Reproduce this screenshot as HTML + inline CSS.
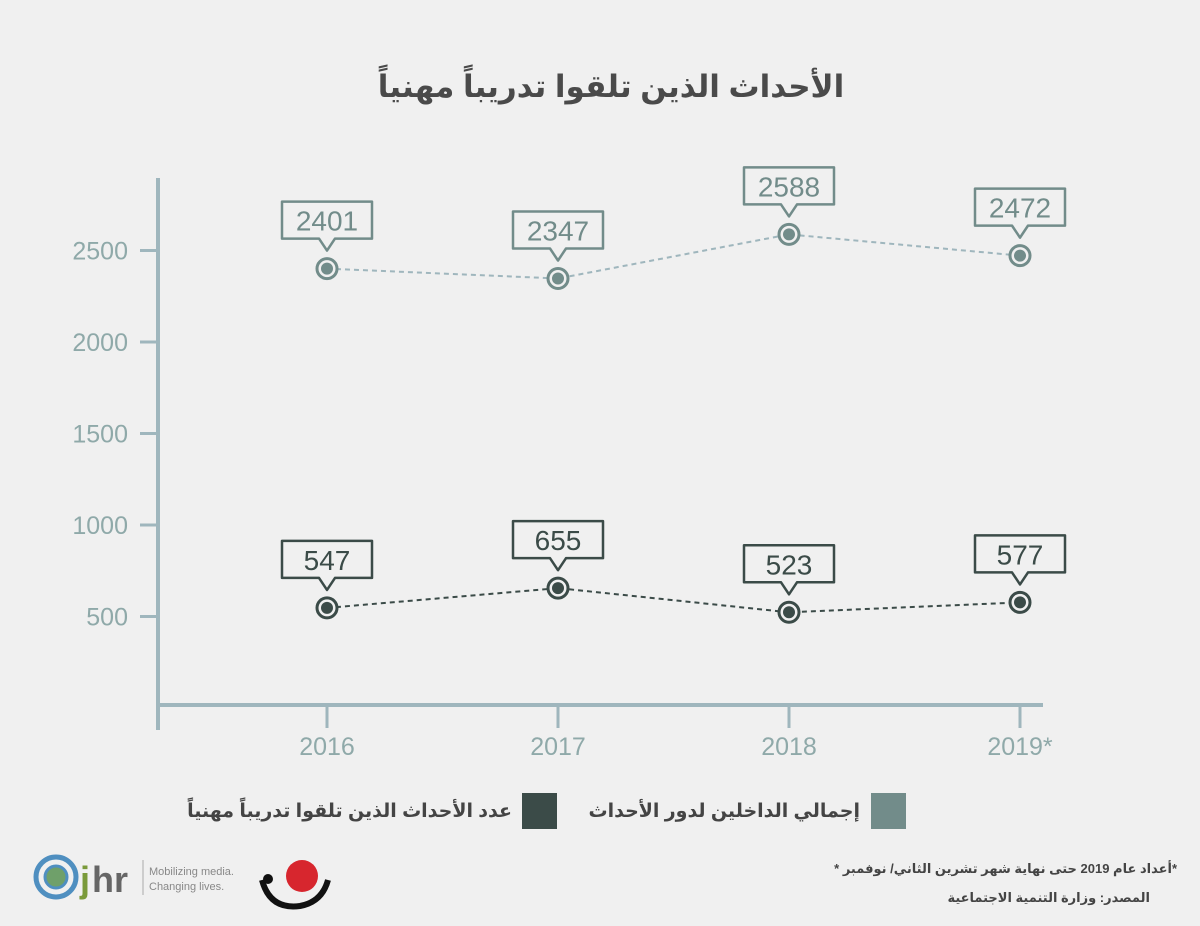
<!DOCTYPE html>
<html><head><meta charset="utf-8"><style>
body{margin:0;background:#f0f0f0;}
svg{display:block;font-family:"Liberation Sans","DejaVu Sans",sans-serif;}
</style></head><body>
<svg id="c" width="1200" height="926" viewBox="0 0 1200 926">
<rect width="1200" height="926" fill="#f0f0f0"/>
<text x="611" y="97" text-anchor="middle" font-size="31" font-weight="bold" fill="#4a4a4a" font-family="'Liberation Sans','Noto Sans CJK SC','DejaVu Sans',sans-serif">الأحداث الذين تلقوا تدريباً مهنياً</text>
<g id="axes"></g><g id="series"></g>
<g>
<rect x="871" y="793" width="35" height="36" fill="#728c8a"/>
<text x="860" y="817" text-anchor="end" font-size="19" font-weight="bold" fill="#444">إجمالي الداخلين لدور الأحداث</text>
<rect x="522" y="793" width="35" height="36" fill="#3b4b48"/>
<text x="512" y="817" text-anchor="end" font-size="19" font-weight="bold" fill="#444">عدد الأحداث الذين تلقوا تدريباً مهنياً</text>
</g>
<text x="1177" y="873" text-anchor="end" font-size="13" font-weight="bold" fill="#444">* أعداد عام 2019 حتى نهاية شهر تشرين الثاني/ نوفمبر*</text>
<text x="1150" y="902" text-anchor="end" font-size="13" font-weight="bold" fill="#444">المصدر: وزارة التنمية الاجتماعية</text>
<g>
<circle cx="56" cy="877" r="20" fill="none" stroke="#4f8fc0" stroke-width="5"/>
<circle cx="56" cy="877" r="11" fill="#6fa06a" stroke="#4f8fc0" stroke-width="3"/>
<text x="80" y="892" font-size="36" font-weight="bold" fill="#7a9a3a">j</text>
<text x="92" y="892" font-size="36" font-weight="bold" fill="#666">hr</text>
<line x1="143" y1="860" x2="143" y2="895" stroke="#aaa"/>
<text x="149" y="875" font-size="11" fill="#888">Mobilizing media.</text>
<text x="149" y="890" font-size="11" fill="#888">Changing lives.</text>
</g>
<g>
<circle cx="302" cy="876" r="16" fill="#d7262e"/>
<path d="M262 880 Q270 910 300 906 Q322 902 328 880" fill="none" stroke="#111" stroke-width="6"/>
<circle cx="268" cy="879" r="5" fill="#111"/>
</g>
</svg>
<script>
const years=["2016","2017","2018","2019*"];
const totalVals=[2401,2347,2588,2472];
const trainedVals=[547,655,523,577];
const yTicks=[500,1000,1500,2000,2500];
const NS="http://www.w3.org/2000/svg";
function el(t,a,p){const e=document.createElementNS(NS,t);for(const k in a)e.setAttribute(k,a[k]);p.appendChild(e);return e;}
const xPos=i=>327+i*231;
const yPos=v=>708-v*0.183;
const ax=document.getElementById('axes'),sr=document.getElementById('series');
const ac="#9fb6bd";
let a=el('line',{x1:158,y1:178,x2:158,y2:730,stroke:ac,'stroke-width':4},ax);

a=el('line',{x1:156,y1:705,x2:1043,y2:705,stroke:ac,'stroke-width':4},ax);

yTicks.forEach(v=>{const y=yPos(v);
 el('line',{x1:140,y1:y,x2:158,y2:y,stroke:ac,'stroke-width':3},ax);
 const t=el('text',{x:128,y:y+9,'text-anchor':'end','font-size':25,fill:'#8fa9a9'},ax);t.textContent=v;
 });
years.forEach((yr,i)=>{const x=xPos(i);
 el('line',{x1:x,y1:705,x2:x,y2:728,stroke:ac,'stroke-width':3},ax);
 const t=el('text',{x:x,y:755,'text-anchor':'middle','font-size':25,fill:'#8fa9a9'},ax);t.textContent=yr;
 });
function series(vals,line,dot,name){
 const pts=vals.map((v,i)=>xPos(i)+','+yPos(v)).join(' ');
 const pl=el('polyline',{points:pts,fill:'none',stroke:line,'stroke-width':2,'stroke-dasharray':'5,4'},sr);
 
 vals.forEach((v,i)=>{const x=xPos(i),y=yPos(v);
  const g=el('g',{},sr);
  
  el('circle',{cx:x,cy:y,r:10,fill:'#f0f0f0',stroke:dot,'stroke-width':3},g);
  el('circle',{cx:x,cy:y,r:6,fill:dot},g);
  const b=y-30,t=b-37,w=45;
  el('path',{d:`M${x-w} ${t} H${x+w} V${b} H${x+8} L${x} ${b+12} L${x-8} ${b} H${x-w} Z`,fill:'#f0f0f0',stroke:dot,'stroke-width':2.5,'stroke-linejoin':'round'},g);
  const tx=el('text',{x:x,y:b-8,'text-anchor':'middle','font-size':28,fill:dot},g);tx.textContent=v;
  
 });
}
series(totalVals,'#9fb6bd','#728c8a','total');
series(trainedVals,'#3b4b48','#3b4b48','trained');
</script>
</body></html>
